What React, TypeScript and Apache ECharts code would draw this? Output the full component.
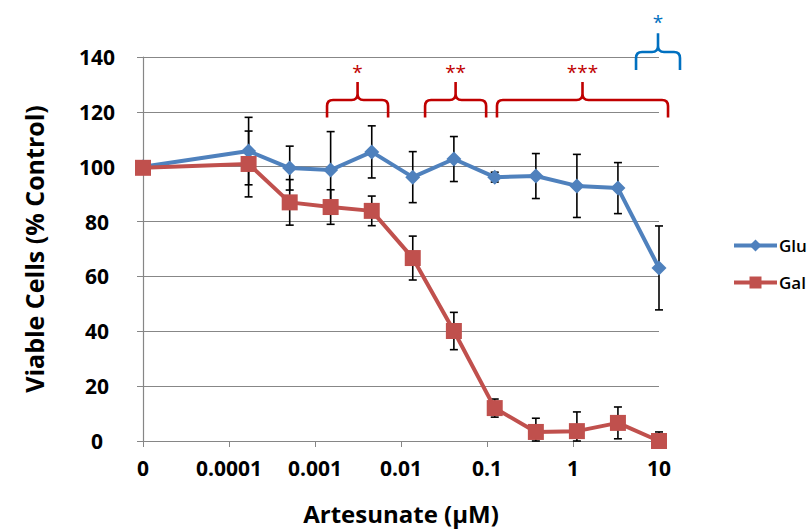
import React, { useEffect, useRef } from "react";
import * as echarts from "echarts";

// Artesunate concentrations (µM), 3-fold dilution series; 0 is the untreated control
const concentrations = [0, 0.000169, 0.000508, 0.00152, 0.00457, 0.0137, 0.0412, 0.123, 0.37, 1.11, 3.33, 10];

// Viable cells (% control), mean and error per concentration
const gluMean = [100, 105.7, 99.5, 98.8, 105.4, 96.2, 102.8, 96.2, 96.6, 93, 92.2, 63.1];
const gluErr = [0, 12.3, 8, 14, 9.5, 9.3, 8.2, 1.8, 8.2, 11.5, 9.3, 15.3];
const galMean = [99.6, 101, 87, 85.3, 83.9, 66.7, 40.1, 12, 3.3, 3.6, 6.6, 0];
const galErr = [0, 12, 8.3, 6.3, 5.4, 8, 6.8, 3.3, 5, 7, 5.8, 3.3];

// x-axis tick labels, one per decade starting from the control position
const xTickLabels = ["0", "0.0001", "0.001", "0.01", "0.1", "1", "10"];
const X_MIN = -5; // axis position used for the 0 µM control

// significance brackets: [from, to] in log10(µM), label
const galBrackets: [number, number, string][] = [
  [-2.86, -2.15, "*"],
  [-1.72, -1.01, "**"],
  [-0.884, 1.105, "***"],
];
const gluBrackets: [number, number, string][] = [[0.733, 1.244, "*"]];

const GLU_COLOR = "#4F81BD";
const GAL_COLOR = "#C0504D";
const FONT = "'Open Sans'";

const toX = (c: number) => (c === 0 ? X_MIN : Math.log10(c));

// curly bracket drawn as a path between two x positions
const Brace = echarts.graphic.extendShape({
  shape: { x0: 0, x1: 0, yEnd: 0, yh: 0, yp: 0, r: 6 },
  buildPath(ctx: any, s: any) {
    const xm = (s.x0 + s.x1) / 2;
    const r = s.r;
    ctx.moveTo(s.x0, s.yEnd);
    ctx.lineTo(s.x0, s.yh + r);
    ctx.quadraticCurveTo(s.x0, s.yh, s.x0 + r, s.yh);
    ctx.lineTo(xm - r, s.yh);
    ctx.quadraticCurveTo(xm, s.yh, xm, s.yh - r);
    ctx.lineTo(xm, s.yp);
    ctx.moveTo(xm, s.yh - r);
    ctx.quadraticCurveTo(xm, s.yh, xm + r, s.yh);
    ctx.lineTo(s.x1 - r, s.yh);
    ctx.quadraticCurveTo(s.x1, s.yh, s.x1, s.yh + r);
    ctx.lineTo(s.x1, s.yEnd);
  },
});
echarts.graphic.registerShape("brace", Brace);

function errorSeries(mean: number[], err: number[]) {
  const data = concentrations.map((c, i) => [
    toX(c),
    Math.max(0, mean[i] - err[i]),
    mean[i] + err[i],
  ]);
  return {
    type: "custom",
    silent: true,
    z: 1,
    data,
    encode: { x: 0, y: [1, 2] },
    renderItem(params: any, api: any) {
      const x = api.value(0);
      const lo = api.coord([x, api.value(1)]);
      const hi = api.coord([x, api.value(2)]);
      const half = 4;
      const style = { stroke: "#000", lineWidth: 1.6 };
      return {
        type: "group",
        children: [
          { type: "line", shape: { x1: lo[0], y1: lo[1], x2: hi[0], y2: hi[1] }, style },
          { type: "line", shape: { x1: hi[0] - half, y1: hi[1], x2: hi[0] + half, y2: hi[1] }, style },
          { type: "line", shape: { x1: lo[0] - half, y1: lo[1], x2: lo[0] + half, y2: lo[1] }, style },
        ],
      };
    },
  };
}

export default function App() {
  const ref = useRef<HTMLDivElement>(null);

  useEffect(() => {
    if (!ref.current) return;
    const chart = echarts.init(ref.current, null, { renderer: "svg" });
    const gluData = concentrations.map((c, i) => [toX(c), gluMean[i]]);
    const galData = concentrations.map((c, i) => [toX(c), galMean[i]]);

    chart.setOption({
      animation: false,
      textStyle: { fontFamily: FONT },
      grid: { left: 143, right: 151, top: 57, bottom: 90 },
      legend: {
        orient: "vertical",
        left: 727,
        top: 232,
        itemWidth: 43,
        itemHeight: 15,
        itemGap: 20,
        lineStyle: { width: 4 },
        textStyle: { fontFamily: FONT, fontSize: 17, fontWeight: 600, color: "#000", padding: [0, 0, 0, -3] },
        data: ["Glu", "Gal"],
      },
      xAxis: {
        type: "value",
        min: X_MIN,
        max: X_MIN + xTickLabels.length - 1,
        interval: 1,
        splitLine: { show: false },
        axisLine: { lineStyle: { color: "#868686", width: 1.2 } },
        axisTick: { length: 6, lineStyle: { color: "#868686" } },
        axisLabel: {
          margin: 16,
          fontFamily: FONT,
          fontSize: 21,
          fontWeight: "bold",
          color: "#000",
          formatter: (v: number) => xTickLabels[Math.round(v - X_MIN)] ?? "",
        },
        name: "Artesunate (µM)",
        nameLocation: "middle",
        nameGap: 60,
        nameTextStyle: { fontFamily: FONT, fontSize: 24, fontWeight: "bold", color: "#000" },
      },
      yAxis: {
        type: "value",
        min: 0,
        max: 140,
        interval: 20,
        splitLine: { lineStyle: { color: "#878787", width: 1 } },
        axisLine: { show: true, onZero: false, lineStyle: { color: "#868686", width: 1.2 } },
        axisTick: { show: true, length: 6, lineStyle: { color: "#868686" } },
        axisLabel: {
          margin: 46,
          align: "center",
          fontFamily: FONT,
          fontSize: 21,
          fontWeight: "bold",
          color: "#000",
        },
        name: "Viable Cells (% Control)",
        nameLocation: "middle",
        nameGap: 97,
        nameTextStyle: { fontFamily: FONT, fontSize: 25, fontWeight: "bold", color: "#000" },
      },
      series: [
        errorSeries(gluMean, gluErr),
        errorSeries(galMean, galErr),
        {
          name: "Glu",
          type: "line",
          z: 3,
          data: gluData,
          symbol: "diamond",
          symbolSize: 15,
          color: GLU_COLOR,
          lineStyle: { width: 4, color: GLU_COLOR },
          itemStyle: { color: GLU_COLOR },
        },
        {
          name: "Gal",
          type: "line",
          z: 4,
          data: galData,
          symbol: "rect",
          symbolSize: 16,
          color: GAL_COLOR,
          lineStyle: { width: 4, color: GAL_COLOR },
          itemStyle: { color: GAL_COLOR },
        },
      ],
    });

    // significance brackets above the curves, placed through the axes
    const px = (x: number, y: number) => chart.convertToPixel({ gridIndex: 0 }, [x, y]) as number[];
    const makeBraces = (
      list: [number, number, string][],
      color: string,
      yEnd: number,
      yh: number,
      yp: number,
      yStar: number,
      id: string
    ) =>
      list.flatMap(([a, b, label], i) => {
        const pa = px(a, yEnd);
        const pb = px(b, yEnd);
        const h = px(a, yh)[1];
        const p = px(a, yp)[1];
        const s = px(a, yStar)[1];
        return [
          {
            type: "brace",
            id: `${id}-brace-${i}`,
            shape: { x0: pa[0], x1: pb[0], yEnd: pa[1], yh: h, yp: p, r: 6 },
            style: { fill: "none", stroke: color, lineWidth: 2.6 },
            z: 10,
          },
          {
            type: "text",
            id: `${id}-star-${i}`,
            x: (pa[0] + pb[0]) / 2,
            y: s,
            style: {
              text: label,
              fill: color,
              font: `19px ${FONT}`,
              align: "center",
              verticalAlign: "middle",
            },
            z: 10,
          },
        ];
      });

    chart.setOption({
      graphic: [
        ...makeBraces(galBrackets, "#C00000", 117.9, 124.3, 130.9, 134.6, "gal"),
        ...makeBraces(gluBrackets, "#0070C0", 135.3, 141.8, 148.7, 152.6, "glu"),
      ],
    });

    return () => chart.dispose();
  }, []);

  return (
    <div
      ref={ref}
      style={{ position: "fixed", left: 0, top: 0, width: 810, height: 531, background: "#fff" }}
    />
  );
}
